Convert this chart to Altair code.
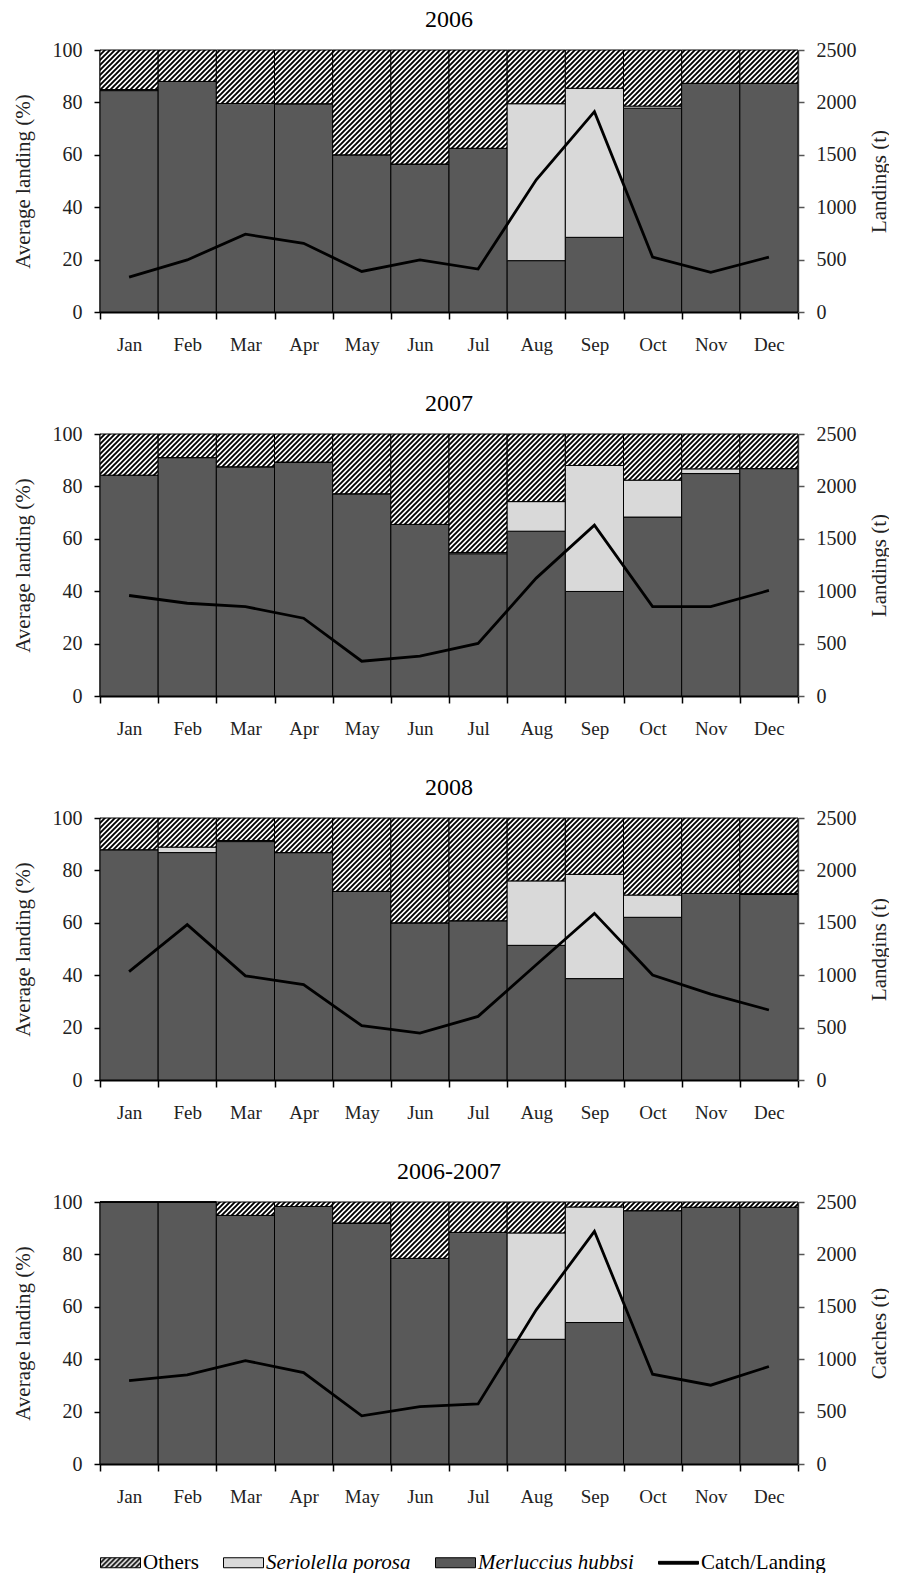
import altair as alt
import pandas as pd
import jinja2

# ---------------- data ----------------
months = ["Jan", "Feb", "Mar", "Apr", "May", "Jun", "Jul", "Aug", "Sep", "Oct", "Nov", "Dec"]

panel_titles = ["2006", "2007", "2008", "2006-2007"]
right_titles = ["Landings (t)", "Landings (t)", "Landgins (t)", "Catches (t)"]

merluccius_2006 = [84.5, 88.0, 79.6, 79.5, 60.0, 56.5, 62.5, 19.6, 28.5, 77.8, 87.3, 87.3]
seriolella_2006 = [0.4, 0.0, 0.0, 0.0, 0.0, 0.0, 0.0, 59.9, 56.9, 0.8, 0.0, 0.0]
landings_2006 = [332, 497, 742, 656, 387, 497, 410, 1261, 1912, 524, 378, 524]

merluccius_2007 = [84.3, 91.0, 87.5, 89.3, 77.2, 65.5, 54.3, 62.9, 39.9, 68.3, 84.9, 86.8]
seriolella_2007 = [0.0, 0.0, 0.0, 0.0, 0.0, 0.0, 0.5, 11.3, 48.1, 14.1, 1.8, 0.0]
landings_2007 = [959, 885, 853, 742, 332, 380, 502, 1125, 1630, 853, 853, 1007]

merluccius_2008 = [87.9, 86.8, 91.0, 86.8, 72.0, 60.0, 60.8, 51.4, 38.7, 62.1, 71.2, 70.8]
seriolella_2008 = [0.0, 2.1, 0.4, 0.0, 0.0, 0.0, 0.0, 24.6, 39.8, 8.5, 0.0, 0.4]
landings_2008 = [1034, 1482, 994, 910, 518, 448, 607, 1100, 1590, 1002, 820, 668]

merluccius_0607 = [100.0, 100.0, 94.9, 98.3, 92.0, 78.5, 88.4, 47.6, 54.0, 96.7, 98.0, 98.0]
seriolella_0607 = [0.0, 0.0, 0.0, 0.0, 0.0, 0.0, 0.0, 40.6, 44.1, 0.0, 0.0, 0.0]
landings_0607 = [796, 850, 987, 873, 459, 548, 573, 1471, 2220, 857, 752, 930]

species_domain = ["Others", "Seriolella porosa", "Merluccius hubbsi", "Catch/Landing"]
species_range = ["url(#hatch)", "#d9d9d9", "#595959", "black"]
stack_order = {"Merluccius hubbsi": 0, "Seriolella porosa": 1, "Others": 2}

FONT = "Liberation Serif"

# ---------------- hatch pattern injected into the page ----------------
HATCH_DEFS = (
    '<svg width="0" height="0" style="position:absolute;left:0;top:0" aria-hidden="true">'
    '<defs><pattern id="hatch" patternUnits="userSpaceOnUse" width="5" height="5">'
    '<rect width="5" height="5" fill="white"/>'
    '<path d="M-1.25,1.25 L1.25,-1.25 M0,5 L5,0 M3.75,6.25 L6.25,3.75" '
    'stroke="black" stroke-width="1.9"/>'
    '</pattern></defs></svg>'
)

template = None
try:
    from altair.utils.html import TEMPLATES

    _std = TEMPLATES["standard"]

    @jinja2.pass_context
    def _render_std(ctx):
        kw = {k: v for k, v in ctx.get_all().items() if k != "render_std"}
        html = _std.render(**kw)
        if "<body>" in html:
            return html.replace("<body>", "<body>\n" + HATCH_DEFS, 1)
        return HATCH_DEFS + html

    template = jinja2.Environment().from_string(
        "{{ render_std() }}", globals={"render_std": _render_std}
    )
except Exception:
    template = None

# ---------------- chart ----------------
legend = alt.Legend(
    orient="none",
    legendX=0,
    legendY=1492,
    direction="horizontal",
    title=None,
    symbolType={"expr": "datum.value === 'Catch/Landing' ? 'M-1,-0.07H1V0.07H-1Z' : 'M-1,-0.25H1V0.25H-1Z'"},
    symbolSize=1600,
    symbolStrokeColor="black",
    symbolStrokeWidth=1,
    symbolOpacity=1,
    labelFont=FONT,
    labelFontSize=21,
    labelFontStyle={"expr": "(datum.value === 'Seriolella porosa' || datum.value === 'Merluccius hubbsi') ? 'italic' : 'normal'"},
    labelColor="black",
    labelOffset=2,
    columnPadding=22,
)


def make_panel(title, merl, seri, land, right_title):
    rows = []
    for i, m in enumerate(months):
        others = round(100 - merl[i] - seri[i], 2)
        for sp, v in (("Merluccius hubbsi", merl[i]), ("Seriolella porosa", seri[i]), ("Others", others)):
            rows.append({"month": m, "species": sp, "pct": v, "ord": stack_order[sp]})
    bars_df = pd.DataFrame(rows)
    line_df = pd.DataFrame({"month": months, "landings": land})

    x_axis = alt.Axis(
        title=None, labelAngle=0, tickBand="extent", tickSize=7, tickColor="black",
        tickWidth=1.5, domainColor="black", domainWidth=2, labelPadding=16,
        labelFont=FONT, labelFontSize=19, labelColor="#222", grid=False,
    )
    x = alt.X("month:N", sort=months, scale=alt.Scale(paddingInner=0, paddingOuter=0), axis=x_axis)

    bars = alt.Chart(bars_df).mark_bar(stroke="black", strokeWidth=1).encode(
        x=x,
        y=alt.Y(
            "pct:Q", stack="zero", scale=alt.Scale(domain=[0, 100]),
            axis=alt.Axis(
                title="Average landing (%)", values=[0, 20, 40, 60, 80, 100], grid=False,
                tickSize=6, tickColor="black", tickWidth=1.5, domainColor="black", domainWidth=2,
                labelFont=FONT, labelFontSize=20, labelColor="#222", labelPadding=12,
                titleFont=FONT, titleFontSize=21, titleFontWeight="normal", titleColor="#222",
                titlePadding=19,
            ),
        ),
        fill=alt.Fill("species:N", scale=alt.Scale(domain=species_domain, range=species_range), legend=legend),
        order=alt.Order("ord:Q"),
    )
    line = alt.Chart(line_df).mark_line(color="black", strokeWidth=2.8).encode(
        x=x,
        y=alt.Y(
            "landings:Q", scale=alt.Scale(domain=[0, 2500]),
            axis=alt.Axis(
                orient="right", title=right_title, values=[0, 500, 1000, 1500, 2000, 2500], format="d",
                grid=False, tickSize=6, tickColor="#555", tickWidth=1.5, domainColor="#666", domainWidth=1.5,
                labelFont=FONT, labelFontSize=20, labelColor="#222", labelPadding=12,
                titleFont=FONT, titleFontSize=21, titleFontWeight="normal", titleColor="#222",
                titleAngle=270, titleBaseline="top", titlePadding=12,
            ),
        ),
    )
    return (
        alt.layer(bars, line)
        .resolve_scale(y="independent")
        .properties(
            width=698, height=262,
            title=alt.TitleParams(title, font=FONT, fontSize=24, fontWeight="normal", color="black", offset=8),
        )
    )


panels = [
    make_panel(panel_titles[0], merluccius_2006, seriolella_2006, landings_2006, right_titles[0]),
    make_panel(panel_titles[1], merluccius_2007, seriolella_2007, landings_2007, right_titles[1]),
    make_panel(panel_titles[2], merluccius_2008, seriolella_2008, landings_2008, right_titles[2]),
    make_panel(panel_titles[3], merluccius_0607, seriolella_0607, landings_0607, right_titles[3]),
]

chart = (
    alt.vconcat(*panels, spacing=38)
    .properties(padding={"left": 4, "top": 0, "right": 0, "bottom": 0})
    .configure(font=FONT)
    .configure_view(strokeWidth=0)
)

if template is not None:
    chart.save("out.html", embed_options={"renderer": "svg", "actions": False}, template=template)
else:
    chart.save("out.html", embed_options={"renderer": "svg", "actions": False})
